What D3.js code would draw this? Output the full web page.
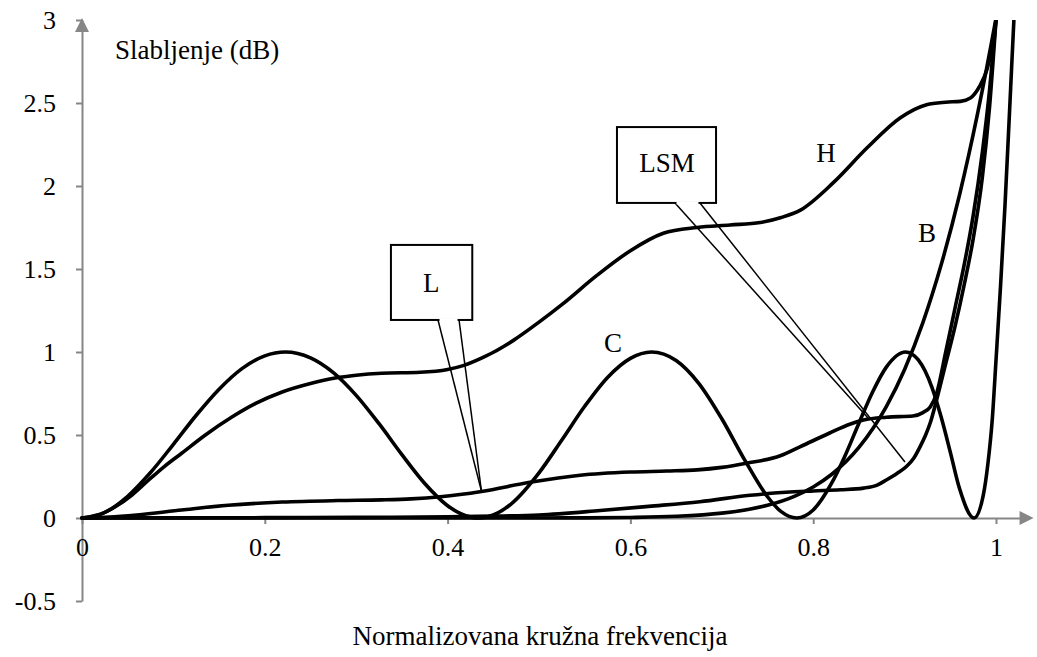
<!DOCTYPE html>
<html><head><meta charset="utf-8">
<script src="https://cdn.jsdelivr.net/npm/d3@7"></script>
<style>
html,body{margin:0;padding:0;background:#fff;}
svg{display:block;}
svg text{font-family:"Liberation Serif","Tinos","Times New Roman","DejaVu Serif",serif !important;fill:#000;}
</style></head><body>
<svg id="chart" width="1037" height="657"></svg>
<script>
// ---------- data ----------
const xTicks = [0, 0.2, 0.4, 0.6, 0.8, 1];
const yTicks = [-0.5, 0, 0.5, 1, 1.5, 2, 2.5, 3];
const xTitle = "Normalizovana kružna frekvencija";
const yTitle = "Slabljenje (dB)";

const curveH = [[0,0],[0.02,0.022],[0.036,0.066],[0.055,0.14],[0.073,0.229],[0.09,0.31],[0.109,0.39],[0.135,0.5],[0.164,0.608],[0.19,0.69],[0.219,0.759],[0.25,0.81],[0.277,0.843],[0.3,0.86],[0.328,0.872],[0.37,0.878],[0.4,0.895],[0.417,0.918],[0.44,0.97],[0.472,1.07],[0.5,1.18],[0.526,1.29],[0.563,1.46],[0.6,1.61],[0.636,1.715],[0.673,1.75],[0.709,1.765],[0.742,1.78],[0.765,1.81],[0.786,1.855],[0.822,2.02],[0.859,2.23],[0.895,2.41],[0.924,2.49],[0.945,2.505],[0.961,2.51],[0.972,2.53],[0.982,2.6],[0.99,2.7],[0.996,2.84],[1.0,3.0]];

const curveC = [[0,0],[0.025,0.034],[0.05,0.131],[0.075,0.274],[0.1,0.444],[0.125,0.619],[0.15,0.776],[0.175,0.9],[0.2,0.977],[0.2225,1.0],[0.25,0.965],[0.275,0.876],[0.3,0.739],[0.325,0.568],[0.35,0.382],[0.375,0.208],[0.4,0.074],[0.415,0.024],[0.434,0],[0.455,0.031],[0.47,0.087],[0.5,0.272],[0.525,0.47],[0.55,0.673],[0.575,0.847],[0.6,0.962],[0.623,1.0],[0.65,0.949],[0.675,0.81],[0.7,0.598],[0.725,0.35],[0.75,0.128],[0.765,0.038],[0.782,0],[0.8,0.048],[0.82,0.208],[0.835,0.377],[0.85,0.571],[0.865,0.759],[0.88,0.909],[0.901,1.0],[0.915,0.952],[0.93,0.786],[0.94,0.608],[0.95,0.397],[0.96,0.179],[0.976,0],[0.986,0.135],[0.991,0.32],[0.996,0.6],[1.0,0.95],[1.005,1.4],[1.01,1.9],[1.015,2.47],[1.02,3.05],[1.025,3.6]];

const curveL = [[0,0],[0.03,0.005],[0.06,0.018],[0.109,0.048],[0.16,0.077],[0.219,0.096],[0.28,0.105],[0.328,0.109],[0.36,0.115],[0.392,0.128],[0.437,0.16],[0.49,0.215],[0.545,0.258],[0.6,0.277],[0.64,0.283],[0.673,0.29],[0.7,0.305],[0.727,0.33],[0.764,0.375],[0.786,0.43],[0.818,0.512],[0.84,0.565],[0.855,0.59],[0.88,0.607],[0.909,0.614],[0.92,0.635],[0.928,0.669],[0.935,0.75],[0.945,1.0],[0.955,1.26],[0.965,1.52],[0.975,1.82],[0.985,2.2],[0.993,2.58],[1.0,3.0]];

const curveLSM = [[0,0],[0.1,0.001],[0.2,0.002],[0.3,0.004],[0.4,0.007],[0.45,0.011],[0.5,0.018],[0.567,0.045],[0.62,0.07],[0.676,0.098],[0.731,0.137],[0.77,0.155],[0.8,0.163],[0.83,0.17],[0.855,0.18],[0.87,0.198],[0.88,0.229],[0.892,0.27],[0.902,0.31],[0.91,0.36],[0.917,0.43],[0.923,0.5],[0.928,0.572],[0.935,0.711],[0.945,0.93],[0.955,1.15],[0.965,1.4],[0.975,1.68],[0.985,2.05],[0.993,2.48],[1.0,3.0]];

const curveB = [[0,0],[0.2,0],[0.4,0.0001],[0.5,0.0003],[0.55,0.001],[0.6,0.0034],[0.65,0.0104],[0.7,0.0294],[0.73,0.0526],[0.75,0.0767],[0.78,0.132],[0.8,0.187],[0.82,0.262],[0.85,0.425],[0.88,0.671],[0.9,0.895],[0.92,1.177],[0.94,1.525],[0.96,1.944],[0.98,2.44],[1.0,3.01],[1.01,3.32]];

// label anchors (data units)
const curveLabels = [["H",0.814,2.199],["B",0.9245,1.717],["C",0.581,1.054]];
const calloutL = {text:"L", box:[0.338,1.645,0.427,1.193], base:[0.3895,0.4125], tips:[[0.437,0.163],[0.437,0.163]], label:[0.382,1.416]};
const calloutLSM = {text:"LSM", box:[0.5853,2.355,0.6937,1.898], base:[0.6488,0.6761], tips:[[0.86,0.602],[0.9004,0.337]], label:[0.640,2.139]};

// ---------- chart ----------
const FONT = '"Liberation Serif","Tinos","Times New Roman","DejaVu Serif",serif';
const svg = d3.select("#chart");
const x = d3.scaleLinear().domain([0,1]).range([82,996]);
const y = d3.scaleLinear().domain([-0.5,3]).range([601,20]);
const axisColor = "#868686";
const fs = 26;

// y axis
const gy = svg.append("g").attr("transform",`translate(${x(0)},0)`)
  .call(d3.axisLeft(y).tickValues(yTicks).tickSize(6).tickSizeOuter(0).tickPadding(20).tickFormat(d=>String(d)));
gy.attr("font-family",FONT);
gy.select(".domain").attr("stroke",axisColor).attr("stroke-width",2);
gy.selectAll(".tick line").attr("stroke",axisColor).attr("stroke-width",2);
gy.selectAll(".tick text").attr("font-size",fs).style("font-family",FONT).attr("fill","#000");

// x axis
const xa = x.copy().domain([0,1.028]).range([x(0),x(1.028)]);
const gx = svg.append("g").attr("transform",`translate(0,${y(0)})`)
  .call(d3.axisBottom(xa).tickValues(xTicks).tickSize(6).tickSizeOuter(0).tickPadding(14).tickFormat(d=>String(d)));
gx.attr("font-family",FONT);
gx.select(".domain").attr("stroke",axisColor).attr("stroke-width",2);
gx.selectAll(".tick line").attr("stroke",axisColor).attr("stroke-width",2);
gx.selectAll(".tick text").attr("font-size",fs).style("font-family",FONT).attr("fill","#000");

// arrows
const yTop = y(3);
svg.append("path").attr("fill",axisColor)
  .attr("d",`M${x(0)},${yTop-2}L${x(0)-7},${yTop+12}L${x(0)+7},${yTop+12}Z`);
const xEnd = x(1.028);
svg.append("path").attr("fill",axisColor)
  .attr("d",`M${xEnd+12},${y(0)}L${xEnd-2},${y(0)-7}L${xEnd-2},${y(0)+7}Z`);

// curves
svg.append("clipPath").attr("id","clip").append("rect")
  .attr("x",0).attr("y",y(3)).attr("width",1037).attr("height",657);
const line = d3.line().x(d=>x(d[0])).y(d=>y(d[1])).curve(d3.curveMonotoneX);
const gc = svg.append("g").attr("clip-path","url(#clip)");
[curveB, curveLSM, curveL, curveC, curveH].forEach(c=>{
  gc.append("path").datum(c).attr("d",line)
    .attr("fill","none").attr("stroke","#000").attr("stroke-width",3.6)
    .attr("stroke-linejoin","round").attr("stroke-linecap","round");
});

// callouts
function callout(c){
  const g = svg.append("g");
  const [bx0,by0,bx1,by1] = c.box;
  g.append("rect").attr("x",x(bx0)).attr("y",y(by0))
    .attr("width",x(bx1)-x(bx0)).attr("height",y(by1)-y(by0))
    .attr("fill","#fff").attr("stroke","#000").attr("stroke-width",2);
  c.base.forEach((b,i)=>{
    g.append("line").attr("x1",x(b)).attr("y1",y(by1))
      .attr("x2",x(c.tips[i][0])).attr("y2",y(c.tips[i][1]))
      .attr("stroke","#000").attr("stroke-width",1.5);
  });
  g.append("line").attr("x1",x(c.base[0])+1.5).attr("x2",x(c.base[1])-1.5)
    .attr("y1",y(by1)).attr("y2",y(by1)).attr("stroke","#fff").attr("stroke-width",3);
  g.append("text").attr("x",x(c.label[0])).attr("y",y(c.label[1]))
    .attr("text-anchor","middle").attr("dominant-baseline","central")
    .attr("font-size",fs+1).style("font-family",FONT).text(c.text);
}
callout(calloutL);
callout(calloutLSM);

curveLabels.forEach(([t,lx,ly])=>{
  svg.append("text").attr("x",x(lx)).attr("y",y(ly))
    .attr("text-anchor","middle").attr("dominant-baseline","central")
    .attr("font-size",fs+1).style("font-family",FONT).text(t);
});

// titles
svg.append("text").attr("x",x(0)+33).attr("y",y(3)+39)
  .attr("font-size",fs+1).style("font-family",FONT).text(yTitle);
svg.append("text").attr("x",540).attr("y",645)
  .attr("text-anchor","middle").attr("font-size",fs+1).style("font-family",FONT).text(xTitle);
</script>
</body></html>
